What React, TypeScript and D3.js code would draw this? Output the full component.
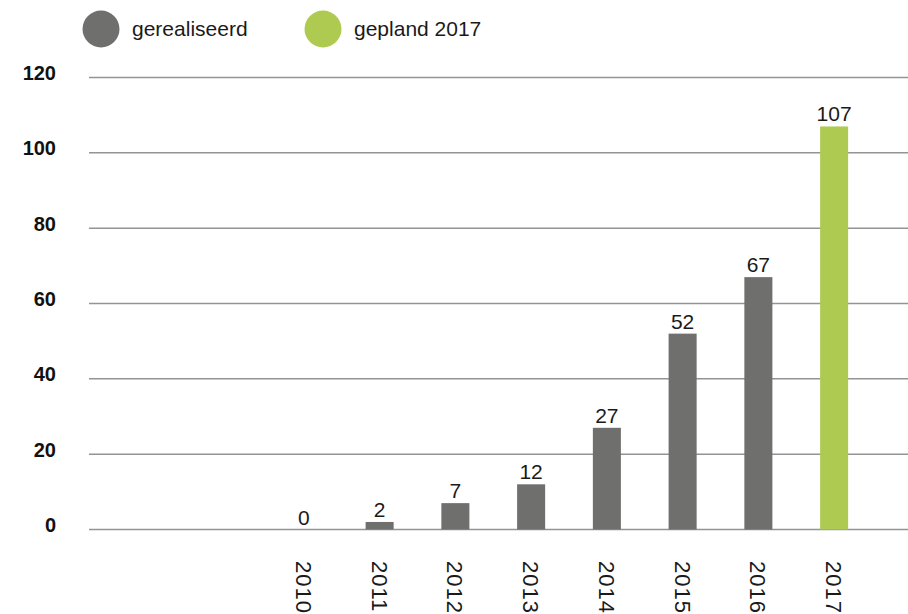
import React from "react";
import * as d3 from "d3";

const years = ["2010", "2011", "2012", "2013", "2014", "2015", "2016", "2017"];
const values = [0, 2, 7, 12, 27, 52, 67, 107];
const planned = [false, false, false, false, false, false, false, true];
const yTicks = [0, 20, 40, 60, 80, 100, 120];
const legendItems = ["gerealiseerd", "gepland 2017"];

const W = 908;
const H = 614;
const GRAY = "#6f6f6e";
const GREEN = "#afca51";
const FONT = "'Liberation Sans', Arial, Helvetica, sans-serif";

export default function App() {
  const y = d3.scaleLinear().domain([0, 120]).range([529.5, 77.5]);
  const x = d3
    .scaleBand<string>()
    .domain(years)
    .range([266, 872])
    .paddingInner(0.63)
    .paddingOuter(0.315);

  const legendX = [101, 323];

  return (
    <svg
      width={W}
      height={H}
      style={{ position: "absolute", left: 0, top: 0, background: "#fff" }}
      fontFamily={FONT}
    >
      {legendItems.map((t, i) => (
        <g key={t}>
          <circle cx={legendX[i]} cy={29} r={18.5} fill={i === 0 ? GRAY : GREEN} />
          <text x={legendX[i] + 31} y={36} fontSize={21} fill="#1a1a1a">
            {t}
          </text>
        </g>
      ))}

      {yTicks.map((t) => (
        <g key={t}>
          <line x1={89} x2={908} y1={y(t)} y2={y(t)} stroke="#949494" strokeWidth={1.5} />
          <text
            x={56}
            y={y(t) + 2.5}
            textAnchor="end"
            fontSize={20}
            fontWeight="bold"
            fill="#111"
          >
            {t}
          </text>
        </g>
      ))}

      {years.map((yr, i) => {
        const bx = x(yr) as number;
        const cx = bx + x.bandwidth() / 2;
        const v = values[i];
        return (
          <g key={yr}>
            {v > 0 && (
              <rect
                x={bx}
                y={y(v)}
                width={x.bandwidth()}
                height={y(0) - y(v)}
                fill={planned[i] ? GREEN : GRAY}
              />
            )}
            <text
              x={cx}
              y={y(v) - 5}
              textAnchor="middle"
              fontSize={21}
              fill="#1a1a1a"
            >
              {v}
            </text>
            <text
              transform={`translate(${cx},561) rotate(90)`}
              dy="0.36em"
              fontSize={22}
              letterSpacing={1}
              fill="#1a1a1a"
            >
              {yr}
            </text>
          </g>
        );
      })}
    </svg>
  );
}
